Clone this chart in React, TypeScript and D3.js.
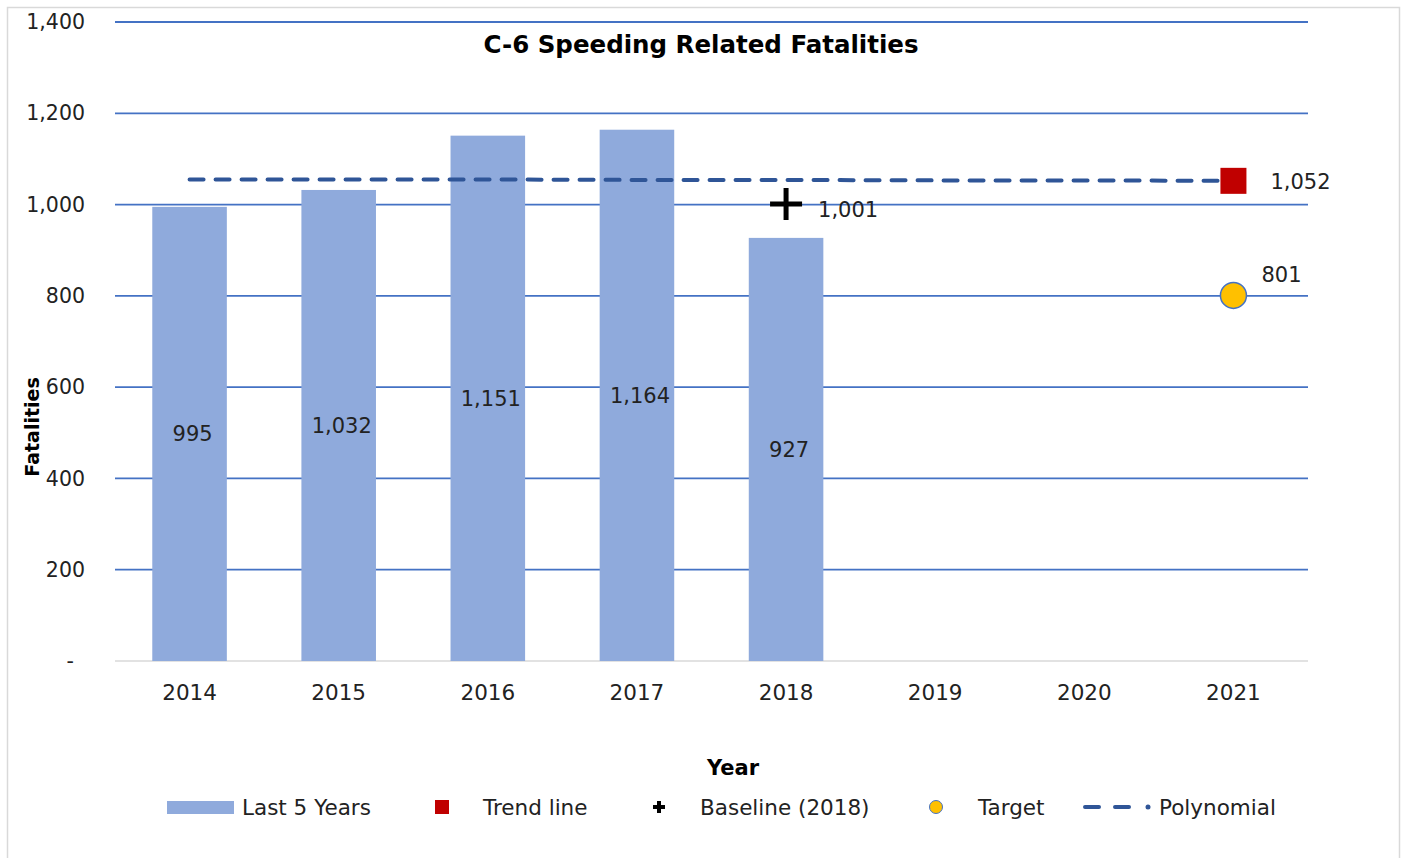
import React from "react";
import * as d3 from "d3";

const years = ["2014", "2015", "2016", "2017", "2018", "2019", "2020", "2021"];
const barYears = ["2014", "2015", "2016", "2017", "2018"];
const barValues = [995, 1032, 1151, 1164, 927];
const barLabels = ["995", "1,032", "1,151", "1,164", "927"];
const polyValues = [1055, 1055, 1055, 1054, 1054, 1053, 1053, 1052];
const trendYear = "2021";
const trendValue = 1052;
const trendLabel = "1,052";
const baselineYear = "2018";
const baselineValue = 1001;
const baselineLabel = "1,001";
const targetYear = "2021";
const targetValue = 801;
const targetLabel = "801";
const yTicks = [0, 200, 400, 600, 800, 1000, 1200, 1400];
const yTickLabels = ["-", "200", "400", "600", "800", "1,000", "1,200", "1,400"];

const FONT = "'DejaVu Sans', sans-serif";

export default function App() {
  const left = 115, right = 1308, top = 22, bottom = 661;
  const x = d3.scaleBand().domain(years).range([left, right]).paddingInner(0.5).paddingOuter(0.25);
  const xc = (d: string) => (x(d) as number) + x.bandwidth() / 2;
  const y = d3.scaleLinear().domain([0, 1400]).range([bottom, top]);
  const line = d3.line<number>().x((_, i) => xc(years[i])).y((v) => y(v));
  const blue = "#4472C4";
  const barColor = "#8FAADC";
  const dark = "#2F5597";

  return (
    <svg width={1404} height={858} style={{ position: "absolute", left: 0, top: 0, fontFamily: FONT }}>
      <rect x={0} y={0} width={1404} height={858} fill="#fff" />
      <rect x={7.5} y={7.5} width={1392} height={870} fill="none" stroke="#D9D9D9" strokeWidth={1.5} />
      {yTicks.map((t) => (
        <line key={t} x1={left} x2={right} y1={y(t)} y2={y(t)} stroke={t === 0 ? "#D9D9D9" : blue} strokeWidth={t === 0 ? 1.5 : 1.8} />
      ))}
      {yTicks.map((t, i) => (
        <text key={"l" + t} x={t === 0 ? 74 : 85} y={y(t)} dy="0.35em" textAnchor="end" fontSize={20.5} fill="#222">
          {yTickLabels[i]}
        </text>
      ))}
      {barYears.map((d, i) => (
        <rect key={d} x={x(d)} y={y(barValues[i])} width={x.bandwidth()} height={y(0) - y(barValues[i])} fill={barColor} />
      ))}
      {barYears.map((d, i) => (
        <text key={"bl" + d} x={xc(d) + 3} y={(y(barValues[i]) + y(0)) / 2} dy="0.35em" textAnchor="middle" fontSize={21} fill="#222">
          {barLabels[i]}
        </text>
      ))}
      {years.map((d) => (
        <text key={"x" + d} x={xc(d)} y={692} dy="0.35em" textAnchor="middle" fontSize={21.5} fill="#222">
          {d}
        </text>
      ))}
      <path d={line(polyValues) || ""} fill="none" stroke={dark} strokeWidth={4} strokeDasharray="14 12" strokeLinecap="round" />
      <rect x={xc(trendYear) - 13} y={y(trendValue) - 13} width={26} height={26} fill="#C00000" />
      <text x={xc(trendYear) + 37} y={y(trendValue) + 1} dy="0.35em" fontSize={21} fill="#222">{trendLabel}</text>
      <path d={`M${xc(baselineYear) - 16},${y(baselineValue)}h32M${xc(baselineYear)},${y(baselineValue) - 16}v32`} stroke="#000" strokeWidth={5} />
      <text x={xc(baselineYear) + 32} y={y(baselineValue) + 6} dy="0.35em" fontSize={21} fill="#222">{baselineLabel}</text>
      <circle cx={xc(targetYear)} cy={y(targetValue)} r={13} fill="#FFC000" stroke={blue} strokeWidth={1.5} />
      <text x={xc(targetYear) + 28} y={y(targetValue) - 21} dy="0.35em" fontSize={21} fill="#222">{targetLabel}</text>
      <text x={701} y={44} dy="0.35em" textAnchor="middle" fontSize={24.5} fontWeight="bold" fill="#000">C-6 Speeding Related Fatalities</text>
      <text transform="translate(32,427) rotate(-90)" dy="0.35em" textAnchor="middle" fontSize={19} fontWeight="bold" fill="#000">Fatalities</text>
      <text x={733} y={768} dy="0.35em" textAnchor="middle" fontSize={21} fontWeight="bold" fill="#000">Year</text>
      <g fontSize={21.5} fill="#222">
        <rect x={167} y={801} width={67} height={13} fill={barColor} />
        <text x={242} y={807} dy="0.35em">Last 5 Years</text>
        <rect x={435} y={800} width={14} height={14} fill="#C00000" />
        <text x={483} y={807} dy="0.35em">Trend line</text>
        <path d="M653,807h12M659,801v12" stroke="#000" strokeWidth={4} />
        <text x={700} y={807} dy="0.35em">Baseline (2018)</text>
        <circle cx={936} cy={807} r={6.5} fill="#FFC000" stroke={blue} strokeWidth={1} />
        <text x={978} y={807} dy="0.35em">Target</text>
        <path d="M1085,807h14M1115,807h14" stroke={dark} strokeWidth={4} strokeLinecap="round" />
        <circle cx={1148} cy={807} r={2.5} fill={dark} />
        <text x={1159} y={807} dy="0.35em">Polynomial</text>
      </g>
    </svg>
  );
}
